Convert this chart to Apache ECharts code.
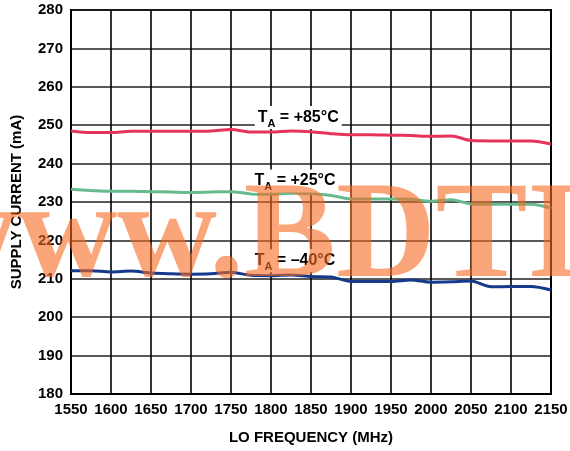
<!DOCTYPE html>
<html>
<head>
<meta charset="utf-8">
<script src="https://cdn.jsdelivr.net/npm/echarts@6/dist/echarts.min.js"></script>
<style>
html,body{margin:0;padding:0;background:#fff;}
#chart{width:570px;height:451px;}
</style>
</head>
<body>
<div id="chart"></div>
<script>
// ---- data ----
var freqMHz = [1550,1575,1600,1625,1650,1675,1700,1725,1750,1775,1800,1825,1850,1875,1900,1925,1950,1975,2000,2025,2050,2075,2100,2125,2150];
var currentP85 = [248.5,248.1,248.1,248.4,248.4,248.4,248.4,248.5,248.9,248.2,248.2,248.5,248.3,247.8,247.5,247.5,247.4,247.3,247.1,247.2,246.0,245.9,245.9,245.9,245.1];
var currentP25 = [233.3,233.0,232.8,232.8,232.7,232.6,232.5,232.6,232.7,232.1,232.0,232.3,232.2,231.7,230.8,230.8,230.8,230.7,230.2,230.6,229.5,229.4,229.4,229.4,228.4];
var currentM40 = [212.1,212.1,211.8,212.0,211.5,211.3,211.2,211.3,211.7,210.9,210.8,211.0,210.6,210.5,209.3,209.3,209.3,209.7,209.1,209.2,209.4,207.9,208.0,208.0,207.1];
var seriesNames = ['+85°C', '+25°C', '–40°C'];
var labelAnchors = [[1834, 252.0], [1830, 235.5], [1830, 214.7]];
var xTicks = [1550, 2150, 50];
var yTicks = [180, 280, 10];
var xTitle = 'LO FREQUENCY (MHz)';
var yTitle = 'SUPPLY CURRENT (mA)';
var watermark = 'www.BDTIC.com';

var FONT = '"Liberation Sans", Arial, sans-serif';
var colors = ['#E6335B', '#66BA8E', '#153A8A'];
var seriesData = [currentP85, currentP25, currentM40];

function pairs(vals) {
  return freqMHz.map(function (f, i) { return [f, vals[i]]; });
}

var series = seriesData.map(function (vals, k) {
  return {
    type: 'line',
    name: seriesNames[k],
    data: pairs(vals),
    smooth: 0.3,
    symbol: 'none',
    lineStyle: { color: colors[k], width: 3 },
    z: 3,
    markPoint: {
      symbol: 'rect',
      symbolSize: 0,
      silent: true,
      data: [{ coord: labelAnchors[k] }],
      label: {
        show: true,
        position: 'inside',
        formatter: '{a|T}{s|A}{a| = ' + seriesNames[k] + '}',
        backgroundColor: '#fff',
        padding: [0, 3, 0, 3],
        rich: {
          a: { fontFamily: FONT, fontWeight: 'bold', fontSize: 16, color: '#000' },
          s: { fontFamily: FONT, fontWeight: 'bold', fontSize: 11, color: '#000', padding: [12, 0, 0, 0] }
        }
      }
    }
  };
});

var chart = echarts.init(document.getElementById('chart'), null, { renderer: 'canvas' });
chart.setOption({
  animation: false,
  backgroundColor: '#fff',
  grid: {
    left: 71, right: 19, top: 10, bottom: 57,
    containLabel: false, outerBoundsMode: 'none',
    show: true, borderColor: '#000', borderWidth: 2
  },
  xAxis: {
    type: 'value',
    min: xTicks[0], max: xTicks[1], interval: xTicks[2],
    name: xTitle, nameLocation: 'middle', nameGap: 36,
    nameTextStyle: { fontFamily: FONT, fontWeight: 'bold', fontSize: 15, color: '#000' },
    axisLine: { show: true, lineStyle: { color: '#000', width: 2 } },
    axisTick: { show: false },
    axisLabel: { margin: 8, fontFamily: FONT, fontWeight: 'bold', fontSize: 15, color: '#000',
      formatter: function (v) { return String(v); } },
    splitLine: { show: true, lineStyle: { color: '#000', width: 1.6 } }
  },
  yAxis: {
    type: 'value',
    min: yTicks[0], max: yTicks[1], interval: yTicks[2],
    name: yTitle, nameLocation: 'middle', nameGap: 47,
    nameTextStyle: { fontFamily: FONT, fontWeight: 'bold', fontSize: 15, color: '#000' },
    axisLine: { show: true, lineStyle: { color: '#000', width: 2 } },
    axisTick: { show: false },
    axisLabel: { margin: 8, fontFamily: FONT, fontWeight: 'bold', fontSize: 15, color: '#000',
      formatter: function (v) { return String(v); } },
    splitLine: { show: true, lineStyle: { color: '#222', width: 1.6 } }
  },
  series: series,
  graphic: [{
    type: 'text',
    z: 100,
    silent: true,
    x: -82,
    y: 240,
    style: {
      text: watermark,
      font: 'bold 138px "Liberation Serif", "Times New Roman", serif',
      fill: 'rgba(248,105,33,0.6)',
      verticalAlign: 'middle',
      align: 'left'
    }
  }]
});
</script>
</body>
</html>
